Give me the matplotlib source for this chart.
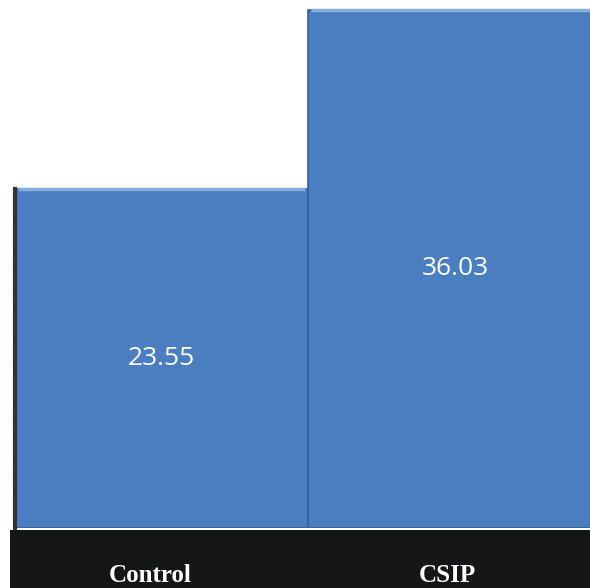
import matplotlib.pyplot as plt
from matplotlib.patches import Rectangle

groups = ['Control', 'CSIP']
values = [23.55, 36.03]

fig = plt.figure(figsize=(5.9, 5.88), dpi=100)
fig.patch.set_facecolor('white')

# black band holding the category labels
fig.patches.append(Rectangle((10/590, 0), 580/590, 58/588, transform=fig.transFigure,
                             facecolor='#151618', edgecolor='none', zorder=0))

ax = fig.add_axes([15/590, 60/588, 575/590, 528/588])
ax.set_facecolor('none')
x = [0, 1]
bars = ax.bar(x, values, width=1.0, color='#4a7ec0', edgecolor='#35619a', linewidth=1.2)
for b in bars:
    # light bevel along the top
    ax.plot([b.get_x() + 0.01, b.get_x() + b.get_width() - 0.01], [b.get_height(), b.get_height()],
            color='#86afdc', lw=2.5, solid_capstyle='butt')
    ax.text(b.get_x() + b.get_width()/2, b.get_height()/2, '%.2f' % b.get_height(),
            ha='center', va='center', color='white', fontsize=19, family='Open Sans')

ax.set_xlim(-0.5, 1.46)
ax.set_ylim(0, 36.7)
ax.set_xticks([])
ax.set_yticks([])
for s in ['top', 'right', 'bottom']:
    ax.spines[s].set_visible(False)
ax.spines['left'].set_bounds(0, 23.55)
ax.spines['left'].set_color('#333333')
ax.spines['left'].set_linewidth(3)
ax.spines['left'].set_linestyle((0, (2, 0.6)))

label_x = [150, 447]
for g, lx in zip(groups, label_x):
    fig.text(lx/590, 6/588, g, ha='center', va='baseline', color='white',
             fontsize=18, fontweight='bold', family='Liberation Serif')

fig.savefig('out.png', dpi=100)
